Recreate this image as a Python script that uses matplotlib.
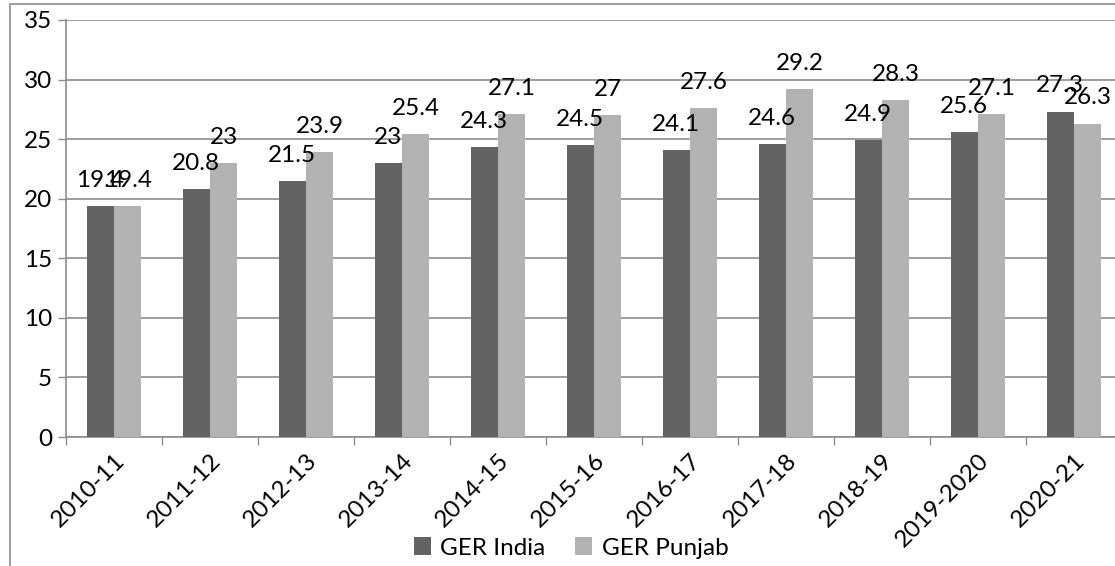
import matplotlib

matplotlib.use("Agg")

import matplotlib.pyplot as plt
import numpy as np
from matplotlib.patches import Rectangle

years = ["2010-11", "2011-12", "2012-13", "2013-14", "2014-15", "2015-16",
         "2016-17", "2017-18", "2018-19", "2019-2020", "2020-21"]
ger_india = [19.4, 20.8, 21.5, 23, 24.3, 24.5, 24.1, 24.6, 24.9, 25.6, 27.3]
ger_punjab = [19.4, 23, 23.9, 25.4, 27.1, 27, 27.6, 29.2, 28.3, 27.1, 26.3]

dark = "#636363"
light = "#b2b2b2"
grid = "#8c8c8c"

plt.rcParams["font.family"] = ["Lato", "DejaVu Sans"]
fs = 17.5

W, H = 1115, 566
fig = plt.figure(figsize=(W / 100, H / 100), dpi=100)
ax = fig.add_axes([66 / W, (H - 437) / H, 1056 / W, 417 / H])

x = np.arange(len(years))
bw = 0.28
b1 = ax.bar(x - 0.145, ger_india, bw, color=dark, label="GER India", zorder=3)
b2 = ax.bar(x + 0.145, ger_punjab, bw, color=light, label="GER Punjab", zorder=3)

for bars in (b1, b2):
    for rect in bars:
        v = rect.get_height()
        ax.annotate(f"{v:g}", (rect.get_x() + rect.get_width() / 2, v),
                    xytext=(0, 11), textcoords="offset points",
                    ha="center", va="bottom", fontsize=fs, zorder=4)

ax.set_ylim(0, 35)
ax.set_xlim(-0.5, len(years) - 0.5)
ax.set_yticks(range(0, 36, 5))
ax.yaxis.grid(True, color=grid, linewidth=1.2, zorder=0)
ax.tick_params(axis="y", length=6, width=1, color=grid, labelsize=fs, pad=4)

ax.set_xticks(x)
ax.set_xticklabels(years, rotation=45, ha="right", rotation_mode="anchor", fontsize=fs)
ax.set_xticks(np.arange(-0.5, len(years)), minor=True)
ax.tick_params(axis="x", which="major", length=0, pad=9)
ax.tick_params(axis="x", which="minor", length=6, width=1, color=grid)

for side in ("top", "right"):
    ax.spines[side].set_visible(False)
for side in ("left", "bottom"):
    ax.spines[side].set_color(grid)
    ax.spines[side].set_linewidth(1.2)

# outer chart border (cropped on the right and bottom)
fig.patches.append(Rectangle((9.5 / W, -0.1), 1.2, (H - 3.5) / H + 0.1,
                             transform=fig.transFigure, fill=False,
                             edgecolor=grid, linewidth=1.2))

fig.legend(handles=[b1, b2], loc="center", bbox_to_anchor=(571 / W, 18 / H),
           ncol=2, frameon=False, fontsize=fs, handlelength=0.7, handleheight=0.7,
           handletextpad=0.4, columnspacing=1.2)

fig.savefig("out.png", dpi=100)
